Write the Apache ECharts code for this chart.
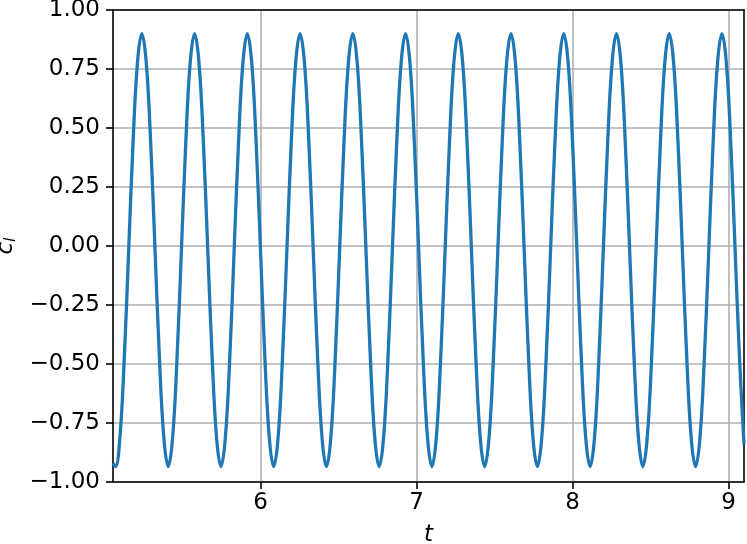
<!DOCTYPE html>
<html>
<head>
<meta charset="utf-8">
<script src="https://cdn.jsdelivr.net/npm/echarts@6/dist/echarts.min.js"></script>
<style>
  html, body { margin: 0; padding: 0; background: #fff; }
  #chart { width: 747px; height: 544px; }
</style>
</head>
<body>
<div id="chart"></div>
<script>
// time samples (one row ~ one period)
const t = [
  5.055,
  5.0705, 5.0987, 5.1268, 5.1550, 5.1832, 5.2113, 5.2395, 5.2677, 5.2958, 5.3240, 5.3522, 5.3803,
  5.4085, 5.4367, 5.4648, 5.4930, 5.5212, 5.5493, 5.5775, 5.6057, 5.6338, 5.6620, 5.6902, 5.7183,
  5.7465, 5.7747, 5.8028, 5.8310, 5.8592, 5.8873, 5.9155, 5.9437, 5.9718, 6.0000, 6.0282, 6.0563,
  6.0845, 6.1127, 6.1408, 6.1690, 6.1972, 6.2253, 6.2535, 6.2817, 6.3098, 6.3380, 6.3662, 6.3943,
  6.4225, 6.4507, 6.4788, 6.5070, 6.5352, 6.5633, 6.5915, 6.6197, 6.6478, 6.6760, 6.7042, 6.7323,
  6.7606, 6.7888, 6.8169, 6.8451, 6.8733, 6.9014, 6.9296, 6.9578, 6.9859, 7.0141, 7.0423, 7.0704,
  7.0986, 7.1268, 7.1549, 7.1831, 7.2113, 7.2394, 7.2676, 7.2958, 7.3239, 7.3521, 7.3803, 7.4084,
  7.4366, 7.4648, 7.4929, 7.5211, 7.5493, 7.5774, 7.6056, 7.6338, 7.6619, 7.6901, 7.7183, 7.7464,
  7.7746, 7.8028, 7.8309, 7.8591, 7.8873, 7.9154, 7.9436, 7.9718, 7.9999, 8.0281, 8.0563, 8.0844,
  8.1126, 8.1408, 8.1689, 8.1971, 8.2253, 8.2534, 8.2816, 8.3098, 8.3379, 8.3661, 8.3943, 8.4224,
  8.4506, 8.4788, 8.5069, 8.5351, 8.5633, 8.5914, 8.6196, 8.6478, 8.6759, 8.7041, 8.7323, 8.7604,
  8.7886, 8.8168, 8.8449, 8.8731, 8.9013, 8.9294, 8.9576, 8.9858, 9.0139, 9.0421, 9.0703, 9.0990
];

// lift coefficient at those times
const cl = [
  -0.920,
  -0.935, -0.812, -0.476, -0.018, 0.441, 0.777, 0.900, 0.777, 0.441, -0.018, -0.476, -0.812,
  -0.935, -0.812, -0.476, -0.018, 0.441, 0.777, 0.900, 0.777, 0.441, -0.018, -0.476, -0.812,
  -0.935, -0.812, -0.476, -0.018, 0.441, 0.777, 0.900, 0.777, 0.441, -0.018, -0.476, -0.812,
  -0.935, -0.812, -0.476, -0.018, 0.441, 0.777, 0.900, 0.777, 0.441, -0.018, -0.476, -0.812,
  -0.935, -0.812, -0.476, -0.018, 0.441, 0.777, 0.900, 0.777, 0.441, -0.018, -0.476, -0.812,
  -0.935, -0.812, -0.476, -0.018, 0.441, 0.777, 0.900, 0.777, 0.441, -0.018, -0.476, -0.812,
  -0.935, -0.812, -0.476, -0.018, 0.441, 0.777, 0.900, 0.777, 0.441, -0.018, -0.476, -0.812,
  -0.935, -0.812, -0.476, -0.018, 0.441, 0.777, 0.900, 0.777, 0.441, -0.018, -0.476, -0.812,
  -0.935, -0.812, -0.476, -0.018, 0.441, 0.777, 0.900, 0.777, 0.441, -0.018, -0.476, -0.812,
  -0.935, -0.812, -0.476, -0.018, 0.441, 0.777, 0.900, 0.777, 0.441, -0.018, -0.476, -0.812,
  -0.935, -0.812, -0.476, -0.018, 0.441, 0.777, 0.900, 0.777, 0.441, -0.018, -0.476, -0.812,
  -0.935, -0.812, -0.476, -0.018, 0.441, 0.777, 0.900, 0.777, 0.441, -0.018, -0.476, -0.840
];

const xTicks = [6, 7, 8, 9];
const yTicks = [-1, -0.75, -0.5, -0.25, 0, 0.25, 0.5, 0.75, 1];

const font = 'DejaVu Sans';
const black = '#000';

const chart = echarts.init(document.getElementById('chart'));

const spine = { show: true, onZero: false, lineStyle: { color: black, width: 1.6 } };
const tick = { show: true, length: 7, lineStyle: { color: black, width: 1.6 } };
const grid = { show: true, lineStyle: { color: '#b0b0b0', width: 1.6 } };

chart.setOption({
  animation: false,
  backgroundColor: '#fff',
  grid: { left: 113, right: 3, top: 10, bottom: 62, outerBoundsMode: 'none', containLabel: false },
  xAxis: [
    {
      type: 'value',
      min: 5.0545,
      max: 9.099,
      axisLine: spine,
      axisTick: Object.assign({ customValues: xTicks }, tick),
      splitLine: grid,
      axisLabel: {
        customValues: xTicks,
        fontSize: 23, fontFamily: font, color: black, margin: 10
      },
      name: 't',
      nameLocation: 'middle',
      nameGap: 42,
      nameTextStyle: { fontSize: 23, fontFamily: font, fontStyle: 'italic', color: black }
    },
    {
      type: 'value', position: 'top', min: 5.0545, max: 9.099,
      axisLine: spine, axisTick: { show: false }, axisLabel: { show: false }, splitLine: { show: false }
    }
  ],
  yAxis: [
    {
      type: 'value',
      min: -1,
      max: 1,
      interval: 0.25,
      axisLine: spine,
      axisTick: Object.assign({ customValues: yTicks }, tick),
      splitLine: grid,
      axisLabel: {
        customValues: yTicks,
        fontSize: 23, fontFamily: font, color: black, margin: 13,
        formatter: v => (v < 0 ? '\u2212' : '') + Math.abs(v).toFixed(2)
      },
      name: '{c|c}{l|l}',
      nameLocation: 'middle',
      nameRotate: 90,
      nameGap: 89,
      nameTextStyle: {
        rich: {
          c: { fontSize: 23, fontFamily: font, fontStyle: 'italic', color: black, lineHeight: 26 },
          l: { fontSize: 16, fontFamily: font, fontStyle: 'italic', color: black, lineHeight: 16, verticalAlign: 'bottom' }
        }
      }
    },
    {
      type: 'value', position: 'right', min: -1, max: 1,
      axisLine: spine, axisTick: { show: false }, axisLabel: { show: false }, splitLine: { show: false }
    }
  ],
  series: [
    {
      type: 'line',
      xAxisIndex: 0,
      yAxisIndex: 0,
      data: t.map((v, i) => [v, cl[i]]),
      showSymbol: false,
      smooth: 0.4,
      clip: true,
      lineStyle: { color: '#1f77b4', width: 3.3 }
    }
  ]
});
</script>
</body>
</html>
